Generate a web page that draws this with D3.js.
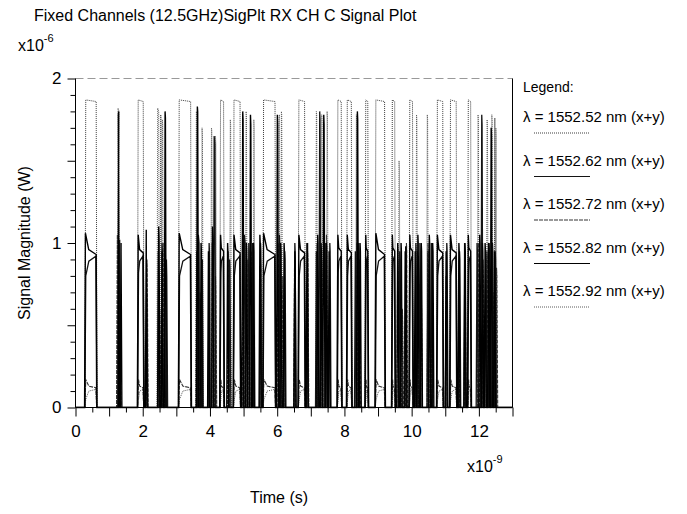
<!DOCTYPE html>
<html>
<head>
<meta charset="utf-8">
<script src="https://cdn.jsdelivr.net/npm/d3@7"></script>
<style>
  body { margin: 0; background: #fff; }
  text { font-family: "Liberation Sans", Arial, sans-serif; fill: #000; }
</style>
</head>
<body>
<svg id="chart" width="687" height="514"></svg>
<script>
// Channel names (legend order)
const channels = [
  "λ = 1552.52 nm (x+y)",
  "λ = 1552.62 nm (x+y)",
  "λ = 1552.72 nm (x+y)",
  "λ = 1552.82 nm (x+y)",
  "λ = 1552.92 nm (x+y)"
];

// Tick labels
const xTickLabels = [0, 2, 4, 6, 8, 10, 12];   // ns
const yTickLabels = [0, 1, 2];                 // µW

// Pulses per channel: [start ns, end ns, level after rise, level before fall, (level once settled)]  (µW)
const ch1552_52 = [
  [0.28,0.64,1.87,1.86],[1.84,2.04,1.87,1.86],[2.51,2.57,1.78,1.75],[3.06,3.45,1.87,1.86],
  [4.29,4.43,1.87,1.86],[4.69,4.92,1.87,1.86],[5.57,5.96,1.87,1.86],[6.62,6.84,1.87,1.86],
  [7.78,7.93,1.87,1.86],[8.06,8.23,1.87,1.86],[8.61,8.72,1.87,1.86],[8.91,9.22,1.87,1.86],
  [9.40,9.52,1.87,1.86],[9.92,10.05,1.87,1.86],[10.74,10.95,1.87,1.86],[11.13,11.35,1.87,1.86],
  [11.66,11.78,1.87,1.86],[12.45,12.50,1.76,1.72]
];
const ch1552_62 = [
  [0.28,0.63,0.80,0.92,0.89],[1.29,1.34,1.02,0.98],[1.85,2.03,0.82,0.92,0.89],[2.09,2.15,0.70,0.65],
  [2.44,2.49,0.95,0.90],[2.55,2.61,1.00,0.95],[2.68,2.74,0.90,0.80],[3.07,3.44,0.80,0.92,0.89],
  [3.63,3.70,1.05,1.00],[3.75,3.80,0.90,0.85],[3.95,4.01,1.00,0.95],[4.10,4.17,1.65,1.60],
  [4.30,4.42,0.82,0.92,0.89],[4.56,4.62,0.90,0.85],[4.70,4.91,0.80,0.92,0.89],[5.00,5.07,1.05,1.00],
  [5.13,5.19,1.00,0.95],[5.24,5.30,1.00,0.95],[5.48,5.54,1.00,0.95],[5.58,5.95,0.80,0.92,0.89],
  [6.04,6.10,1.05,1.00],[6.20,6.26,0.95,0.90],[6.50,6.56,1.00,0.95],[6.63,6.83,0.80,0.92,0.89],
  [6.88,6.93,1.00,0.95],[7.14,7.19,0.95,0.90],[7.24,7.30,1.80,1.75],[7.42,7.48,1.00,0.95],
  [7.54,7.60,1.00,0.95],[7.79,7.92,0.82,0.92,0.89],[8.07,8.22,0.80,0.92,0.89],[8.30,8.35,0.95,0.90],
  [8.40,8.46,1.00,0.95],[8.62,8.71,0.82,0.92,0.89],[8.92,9.21,0.80,0.92,0.89],[9.41,9.51,0.82,0.92,0.89],
  [9.62,9.68,0.95,0.90],[9.78,9.84,0.95,0.90],[9.93,10.04,0.82,0.92,0.89],[10.10,10.16,1.00,0.95],
  [10.22,10.28,1.00,0.95],[10.46,10.51,0.95,0.90],[10.56,10.62,1.00,0.90],[10.75,10.94,0.80,0.92,0.89],
  [11.02,11.08,1.00,0.95],[11.14,11.34,0.80,0.92,0.89],[11.40,11.46,0.95,0.90],[11.55,11.61,1.00,0.90],
  [11.67,11.77,0.82,0.92,0.89],[11.92,11.98,1.00,0.95],[12.06,12.12,1.78,1.72],[12.18,12.24,0.95,0.90],
  [12.28,12.34,1.00,0.95],[12.38,12.44,1.00,0.95],[12.46,12.52,0.95,0.90]
];
const ch1552_72 = [
  [0.28,0.63,0.17,0.12,0.13],[1.22,1.27,1.05,1.00],[1.31,1.36,0.45,0.40],[1.85,2.03,0.17,0.12,0.13],
  [2.10,2.16,0.90,0.85],[2.48,2.54,0.60,0.55],[2.60,2.66,1.00,0.95],[3.07,3.44,0.17,0.12,0.13],
  [3.58,3.63,0.95,0.90],[3.68,3.75,0.70,0.60],[4.04,4.09,1.00,0.95],[4.14,4.20,0.80,0.70],
  [4.30,4.42,0.17,0.12,0.13],[4.52,4.58,0.95,0.90],[4.70,4.91,0.17,0.12,0.13],[4.96,5.02,1.00,0.95],
  [5.10,5.16,0.90,0.80],[5.22,5.27,0.95,0.90],[5.48,5.54,0.90,0.85],[5.58,5.95,0.17,0.12,0.13],
  [6.00,6.06,1.00,0.95],[6.14,6.20,0.80,0.70],[6.49,6.55,0.85,0.80],[6.63,6.83,0.17,0.12,0.13],
  [6.88,6.94,0.95,0.90],[7.16,7.22,1.00,0.95],[7.30,7.36,0.90,0.80],[7.44,7.50,1.05,1.00],
  [7.79,7.92,0.17,0.12,0.13],[8.07,8.22,0.17,0.12,0.13],[8.35,8.40,1.00,0.95],[8.42,8.48,0.90,0.85],
  [8.62,8.71,0.17,0.12,0.13],[8.92,9.21,0.17,0.12,0.13],[9.41,9.51,0.17,0.12,0.13],[9.56,9.62,0.90,0.85],
  [9.70,9.76,0.60,0.50],[9.82,9.88,1.00,0.95],[9.93,10.04,0.17,0.12,0.13],[10.15,10.20,0.95,0.90],
  [10.26,10.32,0.70,0.60],[10.46,10.52,1.00,0.95],[10.58,10.64,0.95,0.85],[10.75,10.94,0.17,0.12,0.13],
  [11.00,11.06,0.80,0.70],[11.14,11.34,0.17,0.12,0.13],[11.38,11.43,0.90,0.85],[11.56,11.62,0.95,0.90],
  [11.67,11.77,0.17,0.12,0.13],[11.96,12.02,1.00,0.95],[12.10,12.16,0.90,0.80],[12.22,12.28,0.95,0.90],
  [12.40,12.46,0.70,0.60],[12.50,12.56,0.85,0.80]
];
const ch1552_82 = [
  [0.27,0.64,1.06,0.93,0.96],[1.26,1.30,1.80,1.78],[1.33,1.38,1.00,0.95],[1.84,2.04,1.05,0.94,0.96],
  [2.08,2.13,1.08,1.00],[2.45,2.51,1.10,1.02],[2.55,2.60,0.95,0.90],[2.64,2.70,1.80,1.76],
  [3.06,3.45,1.06,0.93,0.96],[3.60,3.66,1.83,1.80],[3.71,3.77,1.00,0.95],[3.93,3.99,0.95,0.90],
  [4.05,4.12,1.10,1.02],[4.29,4.43,1.05,0.95,0.97],[4.50,4.56,1.00,0.95],[4.69,4.92,1.05,0.94,0.96],
  [4.95,5.01,1.80,1.75],[5.06,5.12,1.00,0.95],[5.18,5.24,1.78,1.72],[5.27,5.33,1.00,0.95],
  [5.46,5.52,1.05,1.00],[5.57,5.96,1.06,0.93,0.96],[5.98,6.04,1.78,1.72],[6.08,6.14,1.00,0.95],
  [6.18,6.24,1.00,0.95],[6.50,6.56,0.95,0.90],[6.62,6.84,1.05,0.94,0.96],[6.86,6.92,1.00,0.95],
  [7.18,7.24,1.05,1.00],[7.28,7.34,1.00,0.95],[7.36,7.42,1.78,1.72],[7.44,7.50,1.00,0.95],
  [7.52,7.58,0.95,0.90],[7.78,7.93,1.05,0.95,0.97],[8.06,8.23,1.05,0.94,0.96],[8.36,8.42,1.80,1.75],
  [8.44,8.50,1.00,0.95],[8.61,8.72,1.05,0.95,0.97],[8.91,9.22,1.06,0.93,0.96],[9.40,9.52,1.05,0.95,0.97],
  [9.56,9.62,1.00,0.95],[9.66,9.72,1.00,0.95],[9.80,9.86,0.98,0.94],[9.92,10.05,1.05,0.95,0.97],
  [10.08,10.13,0.95,0.90],[10.16,10.22,1.05,1.00],[10.26,10.32,1.00,0.95],[10.50,10.56,1.05,1.00],
  [10.60,10.66,1.00,0.95],[10.74,10.95,1.05,0.94,0.96],[11.00,11.06,0.95,0.90],[11.13,11.35,1.05,0.94,0.96],
  [11.38,11.44,1.00,0.95],[11.56,11.62,1.00,0.95],[11.66,11.78,1.05,0.95,0.97],[12.00,12.06,1.05,1.00],
  [12.08,12.14,1.00,0.95],[12.16,12.22,1.00,0.95],[12.26,12.32,1.00,0.95],[12.34,12.40,1.70,1.65],
  [12.44,12.50,0.95,0.90]
];
const ch1552_92 = [
  [0.28,0.63,0.05,0.11,0.10],[1.24,1.32,1.82,1.80],[1.85,2.03,0.05,0.11,0.10],[2.42,2.50,1.82,1.80],
  [2.56,2.62,1.75,1.72],[3.07,3.44,0.05,0.11,0.10],[3.57,3.64,1.80,1.78],[3.74,3.80,1.70,1.65],
  [4.02,4.08,1.70,1.68],[4.14,4.20,1.65,1.60],[4.30,4.42,0.05,0.11,0.10],[4.58,4.64,1.75,1.72],
  [4.70,4.91,0.05,0.11,0.10],[5.05,5.11,1.80,1.78],[5.28,5.34,1.75,1.70],[5.58,5.95,0.05,0.11,0.10],
  [6.04,6.08,1.78,1.75],[6.10,6.16,1.80,1.78],[6.63,6.83,0.05,0.11,0.10],[7.14,7.20,1.80,1.78],
  [7.30,7.36,1.78,1.74],[7.46,7.52,1.80,1.76],[7.79,7.92,0.05,0.11,0.10],[8.07,8.22,0.05,0.11,0.10],
  [8.33,8.39,1.78,1.75],[8.62,8.71,0.05,0.11,0.10],[8.92,9.21,0.05,0.11,0.10],[9.41,9.51,0.05,0.11,0.10],
  [9.60,9.66,1.50,1.45],[9.93,10.04,0.05,0.11,0.10],[10.12,10.18,1.78,1.75],[10.44,10.50,1.78,1.75],
  [10.75,10.94,0.05,0.11,0.10],[11.14,11.34,0.05,0.11,0.10],[11.67,11.77,0.05,0.11,0.10],[11.95,12.01,1.78,1.75],
  [12.22,12.28,1.75,1.70],[12.36,12.42,1.78,1.74],[12.48,12.54,1.70,1.65]
];

const seriesData = [ch1552_52, ch1552_62, ch1552_72, ch1552_82, ch1552_92];

// Line styles per channel
const styles = [
  { stroke: "#3c3c3c", dash: "1,1", width: 1 },
  { stroke: "#141414", dash: null,  width: 1.3 },
  { stroke: "#333",    dash: "4,1", width: 1.1 },
  { stroke: "#000",    dash: null,  width: 1.4 },
  { stroke: "#5a5a5a", dash: "1,1", width: 1 }
];

const svg = d3.select("#chart");
svg.append("rect").attr("width", 687).attr("height", 514).attr("fill", "#fff");

const plotLeft = 75.5, plotRight = 512.5, plotTop = 78.5, plotBottom = 407.5;
const x = d3.scaleLinear().domain([0, 13]).range([plotLeft, plotRight]);
const y = d3.scaleLinear().domain([0, 2]).range([plotBottom, plotTop]);

// Plot frame: faint top edge, solid right edge
svg.append("line").attr("x1", plotLeft).attr("x2", plotRight).attr("y1", plotTop).attr("y2", plotTop)
  .attr("stroke", "#999").attr("stroke-width", 1).attr("stroke-dasharray", "8,4");
svg.append("line").attr("x1", plotRight).attr("x2", plotRight).attr("y1", plotTop).attr("y2", plotBottom)
  .attr("stroke", "#000").attr("stroke-width", 1);

svg.append("clipPath").attr("id", "plot").append("rect")
  .attr("x", plotLeft).attr("y", plotTop - 2).attr("width", plotRight - plotLeft).attr("height", plotBottom - plotTop + 3);

// Turn each pulse list into a polyline; a settled level, when given, is reached a third of the way in
const rise = 0.025;
function pulsePoints(pulses) {
  const pts = [[0, 0]];
  pulses.forEach(([a, b, v0, v1, vs]) => {
    pts.push([a, 0], [a + rise, v0]);
    if (vs !== undefined) pts.push([a + (b - a) / 3, vs]);
    pts.push([b - rise, v1], [b, 0]);
  });
  pts.push([13, 0]);
  return pts;
}
const line = d3.line().x(d => x(d[0])).y(d => y(d[1]));

const drawOrder = [0, 4, 2, 1, 3];
const plotG = svg.append("g").attr("clip-path", "url(#plot)");
drawOrder.forEach(i => {
  const s = styles[i];
  plotG.append("path")
    .datum(pulsePoints(seriesData[i]))
    .attr("d", line)
    .attr("fill", "none")
    .attr("stroke", s.stroke)
    .attr("stroke-width", s.width)
    .attr("stroke-dasharray", s.dash);
});

// Y axis: minor ticks every 0.1, longer at 0.5 steps
const yAxis = d3.axisLeft(y)
  .tickValues(d3.range(0, 2.0001, 0.1))
  .tickSize(5)
  .tickFormat(d => yTickLabels.some(v => Math.abs(v - d) < 1e-6) ? d3.format("d")(Math.round(d)) : "");
const yg = svg.append("g").attr("transform", `translate(${plotLeft},0)`).call(yAxis);
yg.select(".domain").attr("d", `M0,${plotTop}V${plotBottom}`);
yg.selectAll(".tick line").attr("x2", d => (Math.abs(d * 2 - Math.round(d * 2)) < 1e-6) ? -8 : -5);
yg.selectAll(".tick text").attr("x", -14).attr("font-size", 17).attr("font-family", "Liberation Sans, Arial, sans-serif");

// X axis: ticks every 0.5 ns, longer on whole ns
const xAxis = d3.axisBottom(x)
  .tickValues(d3.range(0, 13.0001, 0.5))
  .tickSize(5)
  .tickFormat(d => xTickLabels.includes(d) ? String(d) : "");
const xg = svg.append("g").attr("transform", `translate(0,${plotBottom})`).call(xAxis);
xg.select(".domain").attr("d", `M${plotLeft},0H${plotRight}`);
xg.selectAll(".tick line").attr("y2", d => Number.isInteger(d) ? 9 : 5);
xg.selectAll(".tick text").attr("y", 17).attr("font-size", 17).attr("font-family", "Liberation Sans, Arial, sans-serif");
svg.selectAll(".domain, .tick line").attr("stroke", "#000");

// Title and axis captions
svg.append("text").attr("x", 34).attr("y", 21).attr("font-size", 16)
  .text("Fixed Channels (12.5GHz)SigPlt RX CH C Signal Plot");

const yExp = svg.append("text").attr("x", 18).attr("y", 51).attr("font-size", 16);
yExp.append("tspan").text("x10");
yExp.append("tspan").attr("dy", -9).attr("font-size", 11).text("-6");

const xExp = svg.append("text").attr("x", 467).attr("y", 472).attr("font-size", 16);
xExp.append("tspan").text("x10");
xExp.append("tspan").attr("dy", -9).attr("font-size", 11).text("-9");

svg.append("text").attr("x", 279).attr("y", 503).attr("text-anchor", "middle")
  .attr("font-size", 16).text("Time (s)");

svg.append("text").attr("transform", "translate(30,243) rotate(-90)")
  .attr("text-anchor", "middle").attr("font-size", 16).text("Signal Magnitude (W)");

// Legend
const lg = svg.append("g");
lg.append("text").attr("x", 523).attr("y", 92).attr("font-size", 14).text("Legend:");
channels.forEach((name, i) => {
  const yy = 122 + i * 43.5;
  lg.append("text").attr("x", 523).attr("y", yy).attr("font-size", 15).text(name);
  lg.append("line").attr("x1", 534).attr("x2", 590).attr("y1", yy + 11).attr("y2", yy + 11)
    .attr("stroke", styles[i].stroke).attr("stroke-width", 1)
    .attr("stroke-dasharray", styles[i].dash);
});
</script>
</body>
</html>
